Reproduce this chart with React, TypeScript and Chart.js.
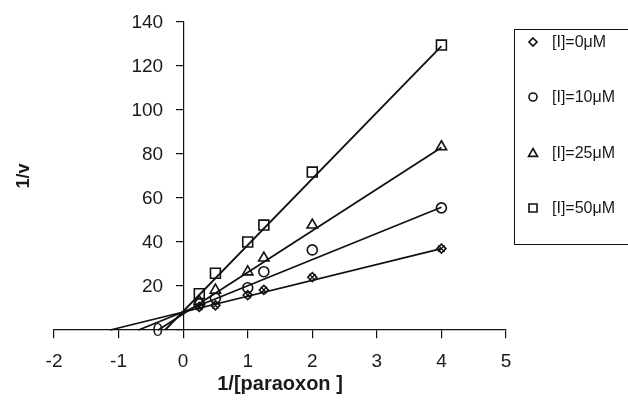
import React, { useEffect, useRef } from "react";
import { Chart, registerables } from "chart.js";

Chart.register(...registerables);

// Data
const xValues = [0.25, 0.5, 1, 1.25, 2, 4];
const seriesLabels = ["[I]=0\u03bcM", "[I]=10\u03bcM", "[I]=25\u03bcM", "[I]=50\u03bcM"];
const series0 = [10.5, 11.2, 15.9, 18.2, 24.0, 37.0];
const series10 = [12.0, 14.4, 19.2, 26.5, 36.4, 55.5];
const series25 = [13.0, 18.1, 26.4, 32.7, 47.7, 83.3];
const series50 = [16.5, 25.8, 40.0, 47.7, 71.8, 129.5];
// regression lines: from x-intercept (y = 0) to x = 4
const lineStartX = [-1.13, -0.69, -0.385, -0.28];
const lineEndX = [4, 4, 4, 4];
const lineEndY = [37.0, 55.8, 83.0, 129.0];
const xTicks = [-2, -1, 0, 1, 2, 3, 4, 5];
const yTicks = [0, 20, 40, 60, 80, 100, 120, 140];
const xTitle = "1/[paraoxon ]";
const yTitle = "1/v";

const markerStyles = ["rectRot", "circle", "triangle", "rect"];
const markerRadius = [4.5, 5, 6, 7];

const FONT = "'Liberation Sans', Arial, Helvetica, sans-serif";
const INK = "#1a1a1a";

function drawMarker(ctx: CanvasRenderingContext2D, style: string, x: number, y: number, r: number) {
  ctx.beginPath();
  if (style === "rectRot") {
    ctx.moveTo(x, y - r);
    ctx.lineTo(x + r, y);
    ctx.lineTo(x, y + r);
    ctx.lineTo(x - r, y);
    ctx.closePath();
  } else if (style === "circle") {
    ctx.arc(x, y, r, 0, Math.PI * 2);
  } else if (style === "triangle") {
    ctx.moveTo(x, y - r);
    ctx.lineTo(x + r, y + r * 0.75);
    ctx.lineTo(x - r, y + r * 0.75);
    ctx.closePath();
  } else {
    ctx.rect(x - r, y - r, 2 * r, 2 * r);
  }
  ctx.stroke();
}

const decorPlugin = {
  id: "decor",
  afterDraw(chart: any) {
    const ctx: CanvasRenderingContext2D = chart.ctx;
    const ca = chart.chartArea;
    const yScale = chart.scales.y;
    const xScale = chart.scales.x;
    ctx.save();
    ctx.fillStyle = INK;

    // y tick labels, right-aligned left of the y axis (which sits at x = 0)
    const axisX = xScale.getPixelForValue(0);
    ctx.font = `19px ${FONT}`;
    ctx.textAlign = "right";
    ctx.textBaseline = "middle";
    yScale.ticks.forEach((t: any) => {
      ctx.fillText(String(t.value), axisX - 20, yScale.getPixelForValue(t.value) + 1);
    });

    // axis titles
    ctx.textAlign = "center";
    ctx.font = `bold 20px ${FONT}`;
    ctx.fillText(xTitle, (ca.left + ca.right) / 2, 384);
    ctx.save();
    ctx.translate(24, (ca.top + ca.bottom) / 2);
    ctx.rotate(-Math.PI / 2);
    ctx.font = `bold 18px ${FONT}`;
    ctx.fillText(yTitle, 0, 0);
    ctx.restore();

    // legend box
    ctx.strokeStyle = "#111";
    ctx.lineWidth = 1;
    ctx.strokeRect(514.5, 29.5, 140, 215);
    const legendYs = [42, 97, 153, 208];
    const legendMarkR = [4, 4, 4.5, 4];
    ctx.font = `16px ${FONT}`;
    ctx.textAlign = "left";
    ctx.textBaseline = "middle";
    seriesLabels.forEach((lab, i) => {
      ctx.strokeStyle = "#111";
      ctx.lineWidth = 1.6;
      drawMarker(ctx, markerStyles[i], 533, legendYs[i], legendMarkR[i]);
      ctx.fillStyle = INK;
      ctx.fillText(lab, 552, legendYs[i] + 1);
    });
    ctx.restore();
  },
};

export default function App() {
  const canvasRef = useRef<HTMLCanvasElement | null>(null);

  useEffect(() => {
    document.body.style.margin = "0";
    const canvas = canvasRef.current;
    if (!canvas) return;
    const allSeries = [series0, series10, series25, series50];

    const datasets: any[] = [];
    allSeries.forEach((vals, i) => {
      datasets.push({
        type: "scatter",
        label: seriesLabels[i] + " fit",
        data: [
          { x: lineStartX[i], y: 0 },
          { x: lineEndX[i], y: lineEndY[i] },
        ],
        showLine: true,
        borderColor: "#111",
        borderWidth: 1.8,
        pointRadius: 0,
        clip: false,
      });
    });
    allSeries.forEach((vals, i) => {
      datasets.push({
        type: "scatter",
        label: seriesLabels[i],
        data: xValues.map((x, k) => ({ x, y: vals[k] })),
        showLine: false,
        pointStyle: markerStyles[i],
        pointRadius: markerRadius[i],
        pointBorderColor: "#111",
        pointBackgroundColor: "rgba(255,255,255,0)",
        pointBorderWidth: 1.6,
        clip: false,
      });
    });
    // overlay cross on the 0 µM points (as seen in the plot)
    datasets.push({
      type: "scatter",
      label: "overlay",
      data: xValues.map((x, k) => ({ x, y: series0[k] })),
      showLine: false,
      pointStyle: "crossRot",
      pointRadius: 4.5,
      pointBorderColor: "#111",
      pointBorderWidth: 1.2,
      clip: false,
    });

    const chart = new Chart(canvas, {
      type: "scatter",
      data: { datasets },
      options: {
        responsive: false,
        animation: false,
        devicePixelRatio: 1,
        layout: { padding: { left: 54, right: 122, top: 22, bottom: 77 } },
        plugins: { legend: { display: false }, tooltip: { enabled: false } },
        scales: {
          x: {
            type: "linear",
            min: -2,
            max: 5,
            position: { y: 0 } as any,
            afterFit: (s: any) => {
              s.height = 0;
            },
            afterBuildTicks: (s: any) => {
              s.ticks = xTicks.map((v) => ({ value: v }));
            },
            ticks: {
              color: INK,
              font: { family: FONT, size: 19 },
              padding: 12,
              autoSkip: false,
              maxRotation: 0,
            },
            grid: {
              drawOnChartArea: false,
              drawTicks: true,
              tickLength: 8,
              color: "#111",
              lineWidth: 1.2,
            },
            border: { display: true, color: "#111", width: 1.2 },
          },
          y: {
            type: "linear",
            min: 0,
            max: 140,
            position: { x: 0 } as any,
            afterFit: (s: any) => {
              s.width = 0;
            },
            afterBuildTicks: (s: any) => {
              s.ticks = yTicks.map((v) => ({ value: v }));
            },
            ticks: {
              display: false,
              autoSkip: false,
            },
            grid: {
              drawOnChartArea: false,
              drawTicks: true,
              tickLength: 7,
              color: "#111",
              lineWidth: 1.2,
            },
            border: { display: true, color: "#111", width: 1.2 },
          },
        },
      },
      plugins: [decorPlugin],
    });
    return () => chart.destroy();
  }, []);

  return (
    <div style={{ width: 628, height: 407 }}>
      <canvas ref={canvasRef} width={628} height={407} style={{ display: "block" }} />
    </div>
  );
}
